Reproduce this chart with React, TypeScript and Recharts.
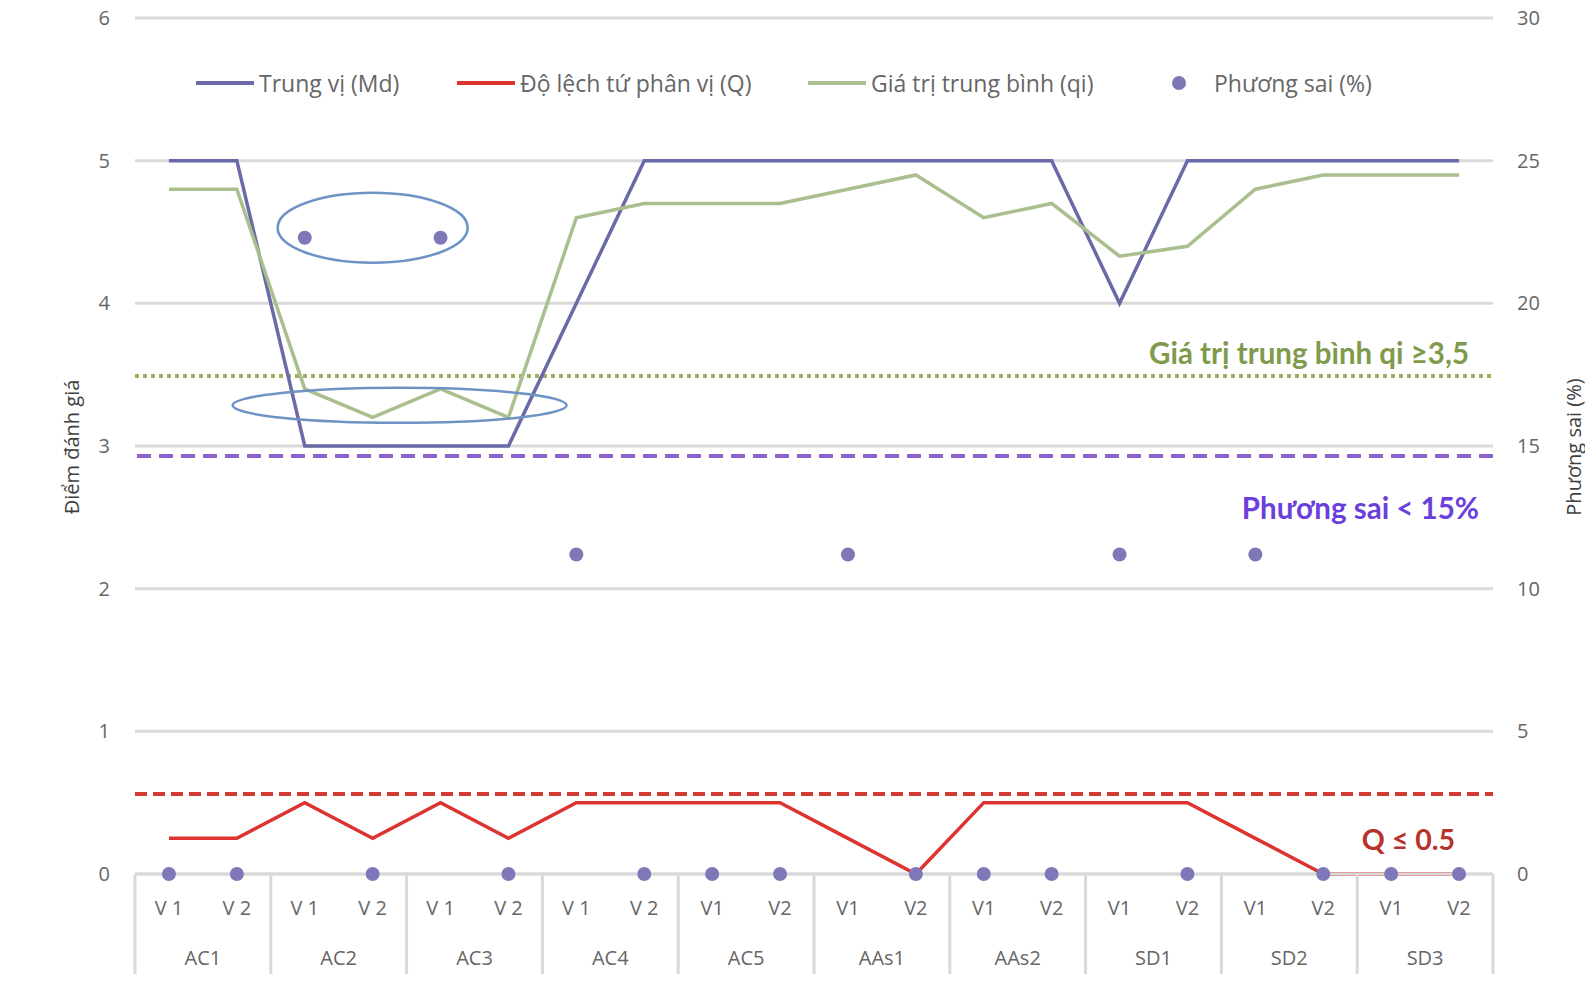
import React from "react";
import {
    ComposedChart, Line, Scatter, XAxis, YAxis, CartesianGrid,
    ReferenceLine, ReferenceDot
} from 'recharts';

const groups = ['AC1', 'AC2', 'AC3', 'AC4', 'AC5', 'AAs1', 'AAs2', 'SD1', 'SD2', 'SD3'];
const rounds = [
    'V 1', 'V 2', 'V 1', 'V 2', 'V 1', 'V 2', 'V 1', 'V 2', 'V1', 'V2',
    'V1', 'V2', 'V1', 'V2', 'V1', 'V2', 'V1', 'V2', 'V1', 'V2'
];
const medianMd = [5, 5, 3, 3, 3, 3, 4, 5, 5, 5, 5, 5, 5, 5, 4, 5, 5, 5, 5, 5];
const quartileQ = [0.25, 0.25, 0.5, 0.25, 0.5, 0.25, 0.5, 0.5, 0.5, 0.5, 0.25, 0, 0.5, 0.5, 0.5, 0.5, 0.25, 0, 0, 0];
const meanQi = [4.8, 4.8, 3.4, 3.2, 3.4, 3.2, 4.6, 4.7, 4.7, 4.7, 4.8, 4.9, 4.6, 4.7, 4.33, 4.4, 4.8, 4.9, 4.9, 4.9];
const variancePct = [0, 0, 22.3, 0, 22.3, 0, 11.2, 0, 0, 0, 11.2, 0, 0, 0, 11.2, 0, 11.2, 0, 0, 0];

const leftTicks = [0, 1, 2, 3, 4, 5, 6];
const rightTicks = [0, 5, 10, 15, 20, 25, 30];

// thresholds as drawn in the picture
const qiLimit = 3.49;
const varianceLimit = 14.65;
const qLimit = 0.56;

const seriesNames = ['Trung vị (Md)', 'Độ lệch tứ phân vị (Q)', 'Giá trị trung bình (qi)', 'Phương sai (%)'];

const data = rounds.map((round, i) => ({
    key: `${groups[Math.floor(i / 2)]}-${i % 2}`,
    round,
    group: groups[Math.floor(i / 2)],
    md: medianMd[i],
    q: quartileQ[i],
    qi: meanQi[i],
    variance: variancePct[i],
}));

const W = 1600;
const H = 990;
const LEFT = 127;
const RIGHT = 115;
const BAND = (W - LEFT - RIGHT) / data.length;

const FONT = '"Open Sans", sans-serif';
const BOLD_FONT = 'Lato, sans-serif';
const GRAY = '#666666';
const GRID = '#d9d9d9';

const C_MD = '#6a6aa8';
const C_Q = '#dc3530';
const C_QI = '#a9bf8e';
const C_VAR = '#7f78b8';

const XTick = (props: any) => {
    const { x, y, index } = props;
    const d = data[index];
    if (!d) return null;
    const first = index % 2 === 0;
    return (
        <g>
            <text x={x} y={y + 41} textAnchor="middle" fill={GRAY} fontSize={20} fontFamily={FONT}>{d.round}</text>
            {first && (
                <text x={x + BAND / 2} y={y + 91} textAnchor="middle" fill={GRAY} fontSize={20} fontFamily={FONT}>{d.group}</text>
            )}
            {first && <line x1={x - BAND / 2} x2={x - BAND / 2} y1={y} y2={y + 100} stroke={GRID} strokeWidth={3} />}
            {index === data.length - 1 && (
                <line x1={x + BAND / 2} x2={x + BAND / 2} y1={y} y2={y + 100} stroke={GRID} strokeWidth={3} />
            )}
        </g>
    );
};

const axisTitle = (text: string, dx: number) => (props: any) => {
    const { x, y, height } = props.viewBox;
    const cx = x + dx;
    const cy = y + height / 2 + 1;
    return (
        <text x={cx} y={cy} transform={`rotate(-90 ${cx} ${cy})`} textAnchor="middle" dominantBaseline="central"
              fill="#404040" fontSize={20} fontFamily={FONT}>{text}</text>
    );
};

const lineNote = (text: string, color: string, fromRight: number, dy: number, size: number) => (props: any) => {
    const { x, y, width } = props.viewBox;
    return (
        <text x={x + width - fromRight} y={y + dy} textAnchor="end" dominantBaseline="central"
              fill={color} fontSize={size} fontWeight="bold" fontFamily={BOLD_FONT}>{text}</text>
    );
};

const ellipse = (dx: number, rx: number, ry: number) => (props: any) => (
    <ellipse cx={props.cx + dx} cy={props.cy} rx={rx} ry={ry} fill="none" stroke="#6d93c4" strokeWidth={2.5} />
);

const legendItems = [
    { name: seriesNames[0], color: C_MD, kind: 'line', left: 188 },
    { name: seriesNames[1], color: C_Q, kind: 'line', left: 449 },
    { name: seriesNames[2], color: C_QI, kind: 'line', left: 800 },
    { name: seriesNames[3], color: C_VAR, kind: 'dot', left: 1156 },
];

const ExpertChart: React.FC = () => (
    <div style={{ position: 'relative', width: W, height: H, marginTop: -10 }}>
        <ComposedChart width={W} height={H} data={data} margin={{ top: 20, right: 0, left: 0, bottom: 14 }}>
            <CartesianGrid yAxisId="left" vertical={false} stroke={GRID} strokeWidth={3} />
            <XAxis dataKey="key" scale="band" interval={0} height={100} tick={<XTick />} tickLine={false}
                   tickSize={0} tickMargin={0} axisLine={{ stroke: GRID, strokeWidth: 3 }} />
            <YAxis yAxisId="left" domain={[0, 6]} ticks={leftTicks} width={LEFT} axisLine={false} tickLine={false}
                   tickMargin={19} tick={{ fill: GRAY, fontSize: 20, fontFamily: FONT }}
                   label={{ content: axisTitle('Điểm đánh giá', 63) }} />
            <YAxis yAxisId="right" orientation="right" domain={[0, 30]} ticks={rightTicks} width={RIGHT}
                   axisLine={false} tickLine={false} tickMargin={18}
                   tick={{ fill: GRAY, fontSize: 20, fontFamily: FONT }}
                   label={{ content: axisTitle('Phương sai (%)', 80) }} />

            <ReferenceLine yAxisId="left" y={qiLimit} stroke="#9db05e" strokeWidth={4} strokeDasharray="4 4"
                           label={{ content: lineNote('Giá trị trung bình qi ≥3,5', '#7f9a4c', 24, -24, 29.5) }} />
            <ReferenceLine yAxisId="right" y={varianceLimit} stroke="#8a62c9" strokeWidth={4} strokeDasharray="14 8"
                           label={{ content: lineNote('Phương sai < 15%', '#6a3fdc', 14, 52, 29.5) }} />
            <ReferenceLine yAxisId="left" y={qLimit} stroke="#d23a32" strokeWidth={4} strokeDasharray="12 6"
                           label={{ content: lineNote('Q ≤ 0.5', '#b8322c', 38, 45, 28.5) }} />

            <Line yAxisId="left" dataKey="md" name={seriesNames[0]} stroke={C_MD} strokeWidth={3.5} dot={false}
                  isAnimationActive={false} />
            <Line yAxisId="left" dataKey="q" name={seriesNames[1]} stroke={C_Q} strokeWidth={3.5} dot={false}
                  isAnimationActive={false} />
            <Line yAxisId="left" dataKey="qi" name={seriesNames[2]} stroke={C_QI} strokeWidth={3.5} dot={false}
                  isAnimationActive={false} />
            <Scatter yAxisId="right" dataKey="variance" name={seriesNames[3]} fill={C_VAR} isAnimationActive={false}
                     shape={(p: any) => <circle cx={p.cx} cy={p.cy} r={7} fill={C_VAR} />} />

            <ReferenceDot yAxisId="left" x="AC2-1" y={4.53} shape={ellipse(0, 95, 35)} />
            <ReferenceDot yAxisId="left" x="AC2-1" y={3.285} shape={ellipse(27, 167, 17.5)} />
        </ComposedChart>
        {legendItems.map((item) => (
            <div key={item.name} style={{
                position: 'absolute', top: 85, left: item.left, transform: 'translateY(-50%)',
                display: 'flex', alignItems: 'center', fontFamily: FONT, fontSize: 23, color: GRAY, whiteSpace: 'nowrap'
            }}>
                {item.kind === 'line'
                    ? <span style={{ display: 'inline-block', width: 58, height: 4, background: item.color, marginRight: 5 }} />
                    : <span style={{ display: 'inline-block', width: 14, height: 14, borderRadius: 7, background: item.color, marginLeft: 8, marginRight: 28 }} />}
                <span>{item.name}</span>
            </div>
        ))}
    </div>
);

export default function App() {
    return <ExpertChart />;
}
